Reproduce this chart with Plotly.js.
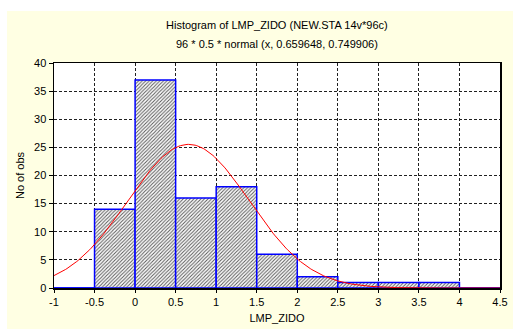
<!DOCTYPE html>
<html>
<head>
<meta charset="utf-8">
<script src="https://cdn.plot.ly/plotly-3.0.1.min.js"></script>
<style>
  html, body { margin: 0; padding: 0; background: #ffffff; }
  #chart { position: absolute; left: 7px; top: 11px; width: 506px; height: 318px; }
</style>
</head>
<body>
<div id="chart"></div>
<script>
// Histogram bins of LMP_ZIDO (width 0.5) and observed counts
const binStarts = [-1, -0.5, 0, 0.5, 1, 1.5, 2, 2.5, 3, 3.5, 4];
const binWidth = 0.5;
const counts = [0, 14, 37, 16, 18, 6, 2, 1, 1, 1, 0];

// Fitted normal: N * binWidth * normal(x, mean, sd)
const nObs = 96;
const mean = 0.659648;
const sd = 0.749906;

const xTicks = [-1, -0.5, 0, 0.5, 1, 1.5, 2, 2.5, 3, 3.5, 4, 4.5];
const yTicks = [0, 5, 10, 15, 20, 25, 30, 35, 40];

const binCenters = binStarts.map(s => s + binWidth / 2);

// Expected-count curve sampled across the axis range
const curveX = [];
const curveY = [];
for (let x = -1; x <= 4.5001; x += 0.02) {
  const z = (x - mean) / sd;
  curveX.push(x);
  curveY.push(nObs * binWidth * Math.exp(-0.5 * z * z) / (sd * Math.sqrt(2 * Math.PI)));
}

// Empty bins still get their blue base edge
const emptyX = [];
const emptyY = [];
binStarts.forEach((s, i) => {
  if (counts[i] === 0) {
    emptyX.push(s, s + binWidth, null);
    emptyY.push(0, 0, null);
  }
});

const font = { family: 'Liberation Sans, Arial, sans-serif', size: 11, color: '#000' };

const traces = [
  {
    type: 'bar',
    x: binCenters,
    y: counts,
    width: binWidth,
    marker: {
      color: '#ffffff',
      line: { color: '#0000ff', width: 1.5 },
      pattern: { shape: '/', fgcolor: '#5a5a5a', bgcolor: '#ffffff', size: 2.5, solidity: 0.4 }
    },
    hoverinfo: 'x+y',
    showlegend: false
  },
  {
    type: 'scatter',
    mode: 'lines',
    x: emptyX,
    y: emptyY,
    line: { color: '#0000ff', width: 1.5 },
    hoverinfo: 'skip',
    showlegend: false
  },
  {
    type: 'scatter',
    mode: 'lines',
    x: curveX,
    y: curveY,
    line: { color: '#ff0000', width: 1 },
    showlegend: false
  }
];

const layout = {
  width: 506,
  height: 318,
  paper_bgcolor: '#ffffe3',
  plot_bgcolor: '#ffffff',
  font: font,
  margin: { l: 47, r: 13, t: 52, b: 41 },
  bargap: 0,
  xaxis: {
    range: [-1, 4.5],
    tickvals: xTicks,
    ticktext: xTicks.map(String),
    ticks: 'outside',
    ticklen: 3,
    tickcolor: '#000',
    showline: true,
    linecolor: '#000',
    linewidth: 1.5,
    mirror: true,
    showgrid: true,
    gridcolor: '#202020',
    griddash: '3px,2px',
    gridwidth: 1,
    zeroline: false,
    title: { text: 'LMP_ZIDO', font: font, standoff: 7 }
  },
  yaxis: {
    range: [0, 40],
    tickvals: yTicks,
    ticks: 'outside',
    ticklen: 4,
    tickcolor: '#000',
    showline: true,
    linecolor: '#000',
    linewidth: 1.5,
    mirror: true,
    showgrid: true,
    gridcolor: '#202020',
    griddash: '3px,2px',
    gridwidth: 1,
    zeroline: false,
    title: { text: 'No of obs', font: font, standoff: 7 }
  },
  annotations: [
    {
      text: 'Histogram of LMP_ZIDO (NEW.STA 14v*96c)',
      xref: 'paper', yref: 'paper', x: 0.5, y: 1,
      xanchor: 'center', yanchor: 'middle', yshift: 38,
      showarrow: false, font: font
    },
    {
      text: '96 * 0.5 * normal (x, 0.659648, 0.749906)',
      xref: 'paper', yref: 'paper', x: 0.5, y: 1,
      xanchor: 'center', yanchor: 'middle', yshift: 19,
      showarrow: false, font: font
    }
  ]
};

Plotly.newPlot('chart', traces, layout, { displayModeBar: false, staticPlot: true });
</script>
</body>
</html>
